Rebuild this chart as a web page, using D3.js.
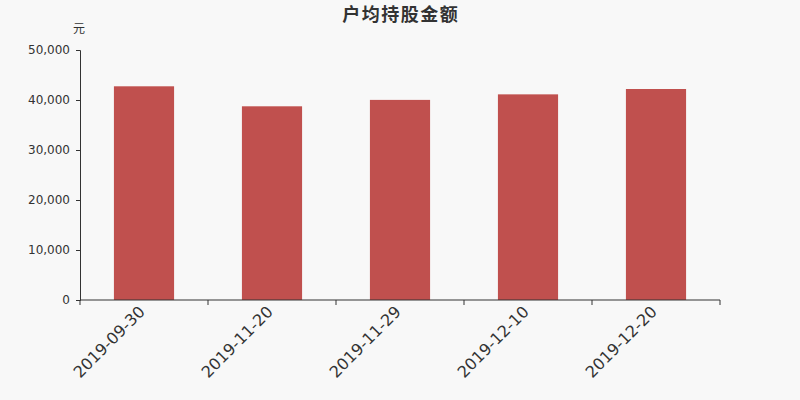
<!DOCTYPE html>
<html><head><meta charset="utf-8">
<script src="https://cdn.jsdelivr.net/npm/d3@7/dist/d3.min.js"></script>
<style>body{margin:0;background:#f8f8f8;}svg{display:block;font-family:"DejaVu Sans","Noto Sans CJK SC",sans-serif;}</style>
</head><body>
<svg id="c" width="800" height="400"></svg>
<script>
const categories = ["2019-09-30","2019-11-20","2019-11-29","2019-12-10","2019-12-20"];
const values = [42740, 38740, 40020, 41130, 42200];
const yTicks = [0,10000,20000,30000,40000,50000];
const title = "户均持股金额";
const unit = "元";

const svg = d3.select("#c");
svg.append("rect").attr("width",800).attr("height",400).attr("fill","#f8f8f8");
const x = d3.scaleBand().domain(categories).range([80,720]).paddingInner(0.53).paddingOuter(0.265);
const y = d3.scaleLinear().domain([0,50000]).range([300,50]);

svg.selectAll(".bar").data(values).enter().append("rect")
  .attr("x",(d,i)=>x(categories[i])).attr("width",x.bandwidth())
  .attr("y",d=>y(d)).attr("height",d=>y(0)-y(d)).attr("fill","#c0504e");

const ya = svg.append("g").attr("transform","translate(80,0)")
  .call(d3.axisLeft(y).tickValues(yTicks).tickSize(4).tickPadding(6).tickFormat(d3.format(",")));
ya.selectAll("line,path").attr("stroke","#333");
ya.selectAll("text").attr("font-size",12).attr("fill","#333").attr("font-family","DejaVu Sans");

const xs = d3.scalePoint().domain(d3.range(categories.length+1)).range([80,720]);
const xa = svg.append("g").attr("transform","translate(0,300)");
xa.append("line").attr("x1",80).attr("x2",720).attr("stroke","#333");
xa.selectAll(".t").data(d3.range(categories.length+1)).enter().append("line")
  .attr("x1",d=>xs(d)).attr("x2",d=>xs(d)).attr("y1",0).attr("y2",5).attr("stroke","#333");
xa.selectAll(".l").data(categories).enter().append("text")
  .attr("transform",d=>`translate(${x(d)+x.bandwidth()/2-6},5) rotate(-45)`)
  .attr("text-anchor","end").attr("dy","0.7em").attr("font-size",16).attr("fill","#333")
  .text(d=>d);

svg.append("text").attr("x",400+0.75).attr("y",21).attr("text-anchor","middle")
  .attr("font-size",18).attr("letter-spacing","1.5px").attr("font-weight","bold").attr("fill","#333").text(title);
svg.append("text").attr("x",79).attr("y",33).attr("text-anchor","middle")
  .attr("font-size",12).attr("fill","#333").text(unit);
</script>
</body></html>
